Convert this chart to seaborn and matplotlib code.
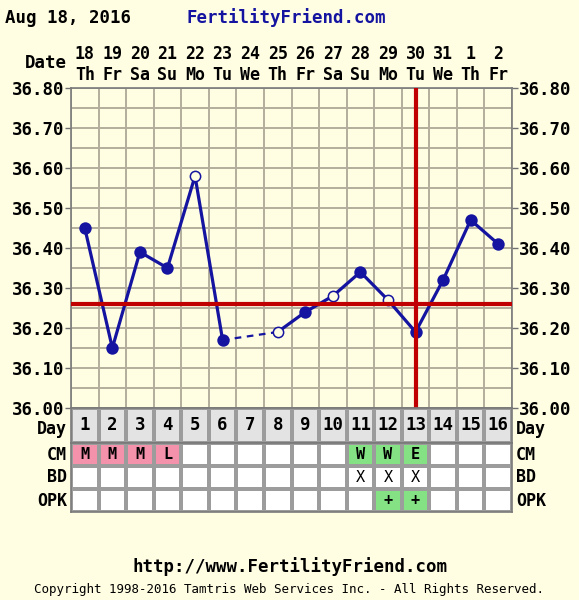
import numpy as np
import pandas as pd
import matplotlib
matplotlib.use('Agg')
import matplotlib.pyplot as plt
from matplotlib.colors import ListedColormap
from matplotlib.ticker import FormatStrFormatter, MultipleLocator
from matplotlib.transforms import ScaledTranslation
import seaborn as sns

# chart data
days = list(range(1, 17))
dates = ['18', '19', '20', '21', '22', '23', '24', '25', '26', '27', '28', '29', '30', '31', '1', '2']
weekdays = ['Th', 'Fr', 'Sa', 'Su', 'Mo', 'Tu', 'We', 'Th', 'Fr', 'Sa', 'Su', 'Mo', 'Tu', 'We', 'Th', 'Fr']
temps = [36.45, 36.15, 36.39, 36.35, 36.58, 36.17, np.nan, 36.19, 36.24, 36.28,
         36.34, 36.27, 36.19, 36.32, 36.47, 36.41]
open_point = [False, False, False, False, True, False, False, True, False, True,
              False, True, False, False, False, False]
coverline = 36.26
ovulation_day = 13
cm_codes = ['M', 'M', 'M', 'L', '', '', '', '', '', '', 'W', 'W', 'E', '', '', '']
bd_codes = ['', '', '', '', '', '', '', '', '', '', 'X', 'X', 'X', '', '', '']
opk_codes = ['', '', '', '', '', '', '', '', '', '', '', '+', '+', '', '', '']

BG = '#fffde2'
BLUE = '#1414a0'
RED = '#c00000'
GRID = '#b3ae9c'
PINK = '#f491ab'
GREEN = '#84e184'
GREY = '#e3e3e3'
CELL_LINE = '#9c9c9c'

sns.set_theme(style='white')
plt.rcParams['font.family'] = ['DejaVu Sans Mono']
plt.rcParams['font.weight'] = 'bold'
for key in ('text.color', 'axes.labelcolor', 'xtick.color', 'ytick.color', 'xtick.labelcolor', 'ytick.labelcolor'):
    plt.rcParams[key] = 'black'

W, H = 579, 600
fig = plt.figure(figsize=(W / 100, H / 100), dpi=100, facecolor=BG)


def box(x0, y0, x1, y1):
    # pixel box (top-left origin) -> figure fraction rect
    return [x0 / W, 1 - y1 / H, (x1 - x0) / W, (y1 - y0) / H]


df = pd.DataFrame({'day': days, 'temp': temps, 'open': open_point})

# ---- temperature chart ----
ax = fig.add_axes(box(71, 88, 512, 408))
ax.set_facecolor(BG)
first = df[df.day <= 6]
second = df[df.day >= 8]
gap = df[df.day.isin([6, 8])]
sns.lineplot(data=first, x='day', y='temp', color=BLUE, lw=2.3, ax=ax, estimator=None, sort=False, zorder=3)
sns.lineplot(data=second, x='day', y='temp', color=BLUE, lw=2.3, ax=ax, estimator=None, sort=False, zorder=3)
sns.lineplot(data=gap, x='day', y='temp', color=BLUE, lw=1.6, ax=ax, estimator=None, sort=False,
             linestyle=(0, (3, 2.5)), zorder=3)
filled = df[(~df.open) & df.temp.notna()]
hollow = df[df.open]
sns.scatterplot(data=filled, x='day', y='temp', color=BLUE, s=80, linewidth=0, ax=ax, zorder=4)
sns.scatterplot(data=hollow, x='day', y='temp', color=BG, edgecolor=BLUE, s=55, linewidth=1.1, ax=ax, zorder=4)
ax.axhline(coverline, color=RED, lw=3, zorder=5)
ax.axvline(ovulation_day, color=RED, lw=3, zorder=5)

ax.set_xlim(0.5, 16.5)
ax.set_ylim(36.0, 36.8)
ax.yaxis.set_major_locator(MultipleLocator(0.1))
ax.yaxis.set_minor_locator(MultipleLocator(0.05))
ax.yaxis.set_major_formatter(FormatStrFormatter('%.2f'))
ax.set_xticks(days, labels=[f'{d}\n{w}' for d, w in zip(dates, weekdays)])
ax.set_xticks(np.arange(0.5, 17, 1), minor=True)
ax.xaxis.tick_top()
ax.tick_params(axis='x', which='both', length=0, pad=3, labelsize=12)
ax.tick_params(axis='y', which='major', left=True, right=True, labelleft=True, labelright=True,
               length=4, width=1, color='#707070', labelsize=12.5, pad=1)
ax.tick_params(axis='y', which='minor', length=0)
ax.grid(which='minor', color=GRID, lw=1.4)
ax.grid(which='major', axis='y', color=GRID, lw=1.4)
ax.grid(which='major', axis='x', visible=False)
ax.set_xlabel('')
ax.set_ylabel('')
for s in ax.spines.values():
    s.set_color('#7a7a7a')
    s.set_linewidth(1.2)

# ---- day row ----
ax_day = fig.add_axes(box(71, 408, 512, 443))
sns.heatmap(np.zeros((1, 16)), ax=ax_day, cmap=ListedColormap([GREY]), cbar=False,
            annot=np.array([[str(d) for d in days]]), fmt='',
            annot_kws={'color': 'black', 'fontsize': 12.5, 'fontweight': 'bold'},
            linewidths=1.5, linecolor=CELL_LINE, xticklabels=False, yticklabels=['Day'])

# ---- CM / BD / OPK rows ----
cm_color = [1 if c in ('M', 'L') else 2 if c else 0 for c in cm_codes]
opk_color = [2 if c else 0 for c in opk_codes]
codes = np.array([cm_color, [0] * 16, opk_color])
labels = np.array([cm_codes, bd_codes, opk_codes])
ax_obs = fig.add_axes(box(71, 443, 512, 512))
sns.heatmap(codes, ax=ax_obs, cmap=ListedColormap(['white', PINK, GREEN]), vmin=0, vmax=2, cbar=False,
            annot=labels, fmt='', annot_kws={'color': 'black', 'fontsize': 11, 'fontweight': 'bold'},
            linewidths=1.5, linecolor=CELL_LINE, xticklabels=False, yticklabels=['CM', 'BD', 'OPK'])

for a in (ax_day, ax_obs):
    a.tick_params(axis='y', left=False, right=False, labelleft=True, labelright=True,
                  length=0, labelsize=12, pad=3, rotation=0, labelcolor='black')
    for s in a.spines.values():
        s.set_visible(True)
        s.set_color('#7a7a7a')
        s.set_linewidth(1.2)
    for t in a.yaxis.get_major_ticks():
        for lab in (t.label1, t.label2):
            lab.set_fontweight('bold')
            lab.set_verticalalignment('center')
# nudge the Day labels down a little, clear of the 36.00 label
for t in ax_day.yaxis.get_major_ticks():
    for lab in (t.label1, t.label2):
        lab.set_transform(lab.get_transform() + ScaledTranslation(0, -3 / 100, fig.dpi_scale_trans))
# BD marks are plain
for t in ax_obs.texts:
    if t.get_text() == 'X':
        t.set_fontweight('normal')

# ---- texts ----
fig.text(5 / W, 1 - 18 / H, 'Aug 18, 2016', fontsize=12.5, fontweight='bold', va='center', color='black')
fig.text(186 / W, 1 - 18 / H, 'FertilityFriend.com', fontsize=12.5, fontweight='bold', va='center', color=BLUE)
fig.text(67 / W, 1 - 63 / H, 'Date', fontsize=12.5, fontweight='bold', ha='right', va='center')
fig.text(0.5, 1 - 567 / H, 'http://www.FertilityFriend.com', fontsize=12.5, fontweight='bold',
         ha='center', va='center')
fig.text(0.5, 1 - 590 / H, 'Copyright 1998-2016 Tamtris Web Services Inc. - All Rights Reserved.',
         fontsize=9, fontweight='normal', ha='center', va='center')

fig.savefig('out.png', dpi=100, facecolor=BG)
